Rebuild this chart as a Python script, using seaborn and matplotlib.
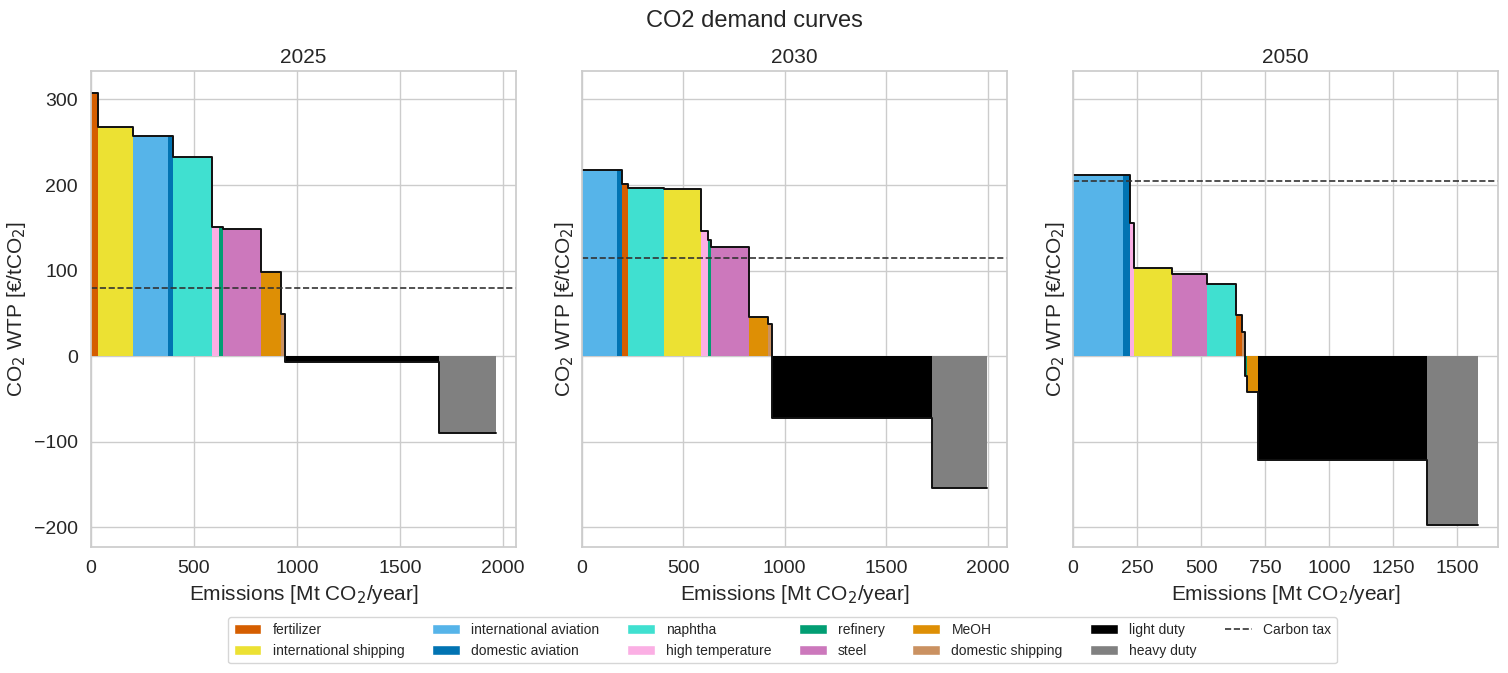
import numpy as np
import matplotlib
matplotlib.use("Agg")
import matplotlib.pyplot as plt
import seaborn as sns
from matplotlib.patches import Patch
from matplotlib.lines import Line2D

sns.set_theme(style="whitegrid")
plt.rcParams['font.family'] = ['Liberation Sans', 'DejaVu Sans']

# sectors in merit order per year, widths [Mt CO2/year], WTP [EUR/tCO2]
sectors_2025 = ["fertilizer", "international shipping", "international aviation", "domestic aviation",
                "naphtha", "high temperature", "refinery", "steel", "MeOH", "domestic shipping",
                "light duty", "heavy duty"]
width_2025 = [32, 170, 171, 24, 189, 34, 19, 187, 94, 24, 746, 275]
wtp_2025 = [308, 268, 257, 257, 233, 151, 151, 148, 98, 49, -7, -90]

sectors_2030 = ["international aviation", "domestic aviation", "fertilizer", "naphtha",
                "international shipping", "high temperature", "refinery", "steel", "MeOH",
                "domestic shipping", "light duty", "heavy duty"]
width_2030 = [174, 23, 30, 178, 182, 35, 15, 187, 94, 18, 790, 271]
wtp_2030 = [217, 217, 201, 197, 195, 146, 136, 127, 46, 38, -73, -154]

sectors_2050 = ["international aviation", "domestic aviation", "high temperature",
                "international shipping", "steel", "naphtha", "fertilizer", "domestic shipping",
                "refinery", "MeOH", "light duty", "heavy duty"]
width_2050 = [196, 26, 17, 148, 136, 115, 20, 13, 8, 45, 657, 200]
wtp_2050 = [212, 212, 155, 103, 96, 84, 48, 28, -23, -42, -121, -198]

years = ["2025", "2030", "2050"]
carbon_tax = [80, 115, 205]

legend_order = ["fertilizer", "international shipping", "international aviation", "domestic aviation",
                "naphtha", "high temperature", "refinery", "steel", "MeOH", "domestic shipping",
                "light duty", "heavy duty"]

cb = sns.color_palette("colorblind")
colors = {
    "fertilizer": cb[3],
    "international shipping": cb[8],
    "international aviation": cb[9],
    "domestic aviation": cb[0],
    "naphtha": "turquoise",
    "high temperature": cb[6],
    "refinery": cb[2],
    "steel": cb[4],
    "MeOH": cb[1],
    "domestic shipping": cb[5],
    "light duty": "black",
    "heavy duty": "grey",
}

data = [(sectors_2025, width_2025, wtp_2025),
        (sectors_2030, width_2030, wtp_2030),
        (sectors_2050, width_2050, wtp_2050)]

fig, axes = plt.subplots(1, 3, figsize=(15.08, 6.73), dpi=100, sharey=True)
fig.subplots_adjust(left=0.0603, right=0.9935, top=0.8945, bottom=0.1872, wspace=0.155)

for ax, year, tax, (sec, w, h) in zip(axes, years, carbon_tax, data):
    w = np.array(w, dtype=float)
    h = np.array(h, dtype=float)
    left = np.concatenate([[0], np.cumsum(w)[:-1]])
    ax.bar(left, h, width=w, align="edge", color=[colors[s] for s in sec], linewidth=0)
    edges = np.concatenate([left, [left[-1] + w[-1]]])
    ax.step(edges, np.concatenate([h, [h[-1]]]), where="post", color="#111111", lw=1.4)
    ax.axhline(tax, ls="--", color="#333333", lw=1.2)
    ax.set_xlim(0, edges[-1] * 1.05)
    ax.set_title(year, fontsize=15)
    ax.set_xlabel("Emissions [Mt CO$_2$/year]", fontsize=15)
    ax.set_ylabel("CO$_2$ WTP [€/tCO$_2$]", fontsize=15)
    ax.tick_params(labelsize=14)

axes[0].set_yticks([-200, -100, 0, 100, 200, 300])
axes[2].set_xticks([0, 250, 500, 750, 1000, 1250, 1500])

handles = [Patch(facecolor=colors[s], label=s) for s in legend_order]
handles.append(Line2D([0], [0], ls="--", color="#333333", lw=1.2, label="Carbon tax"))
fig.legend(handles=handles, loc="upper center", bbox_to_anchor=(0.519, 0.093), ncol=7,
           fontsize=10, frameon=True)
fig.suptitle("CO2 demand curves", fontsize=17, y=0.985)

fig.savefig("out.png", dpi=100)
